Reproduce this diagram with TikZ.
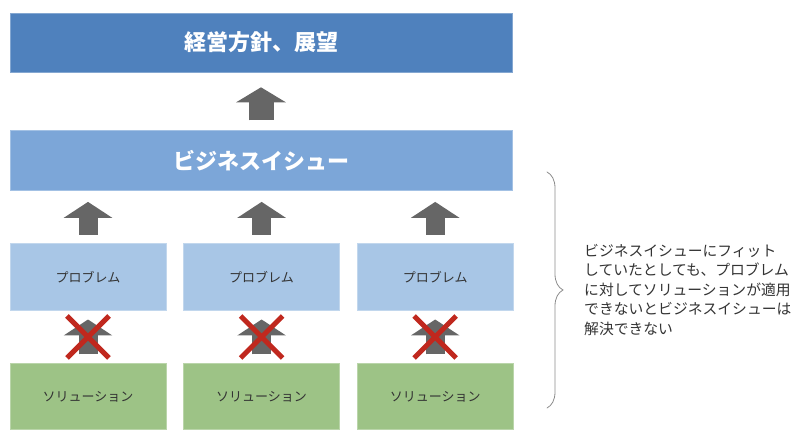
\documentclass[tikz,border=0pt]{standalone}
\usepackage{fontspec}
\setmainfont{Noto Sans CJK JP}
\usepackage{tikz}
\usetikzlibrary{positioning, arrows.meta, shapes.misc, decorations.pathreplacing}
\usepackage{xcolor}
\definecolor{goalblue}{HTML}{4F81BD}
\definecolor{issueblue}{HTML}{7CA6D8}
\definecolor{probblue}{HTML}{A8C6E6}
\definecolor{solgreen}{HTML}{9DC386}
\definecolor{arrgray}{HTML}{666666}
\definecolor{ngred}{HTML}{C0281E}
\definecolor{txtgray}{HTML}{333333}

\begin{document}
\begin{tikzpicture}[x=1pt, y=1pt,
                  box/.style={inner sep=0pt, align=center, line width=0.6pt},
                  goal/.style={box, fill=goalblue, draw=goalblue!70!white,
                              minimum width=502pt, minimum height=59pt,
                              text=white, font=\fontsize{22}{25}\selectfont\bfseries},
                  issue/.style={box, fill=issueblue, draw=issueblue!70!white,
                              minimum width=502pt, minimum height=60pt,
                              text=white, font=\fontsize{22}{25}\selectfont\bfseries},
                  prob/.style={box, fill=probblue, draw=probblue!70!white,
                              minimum width=156pt, minimum height=67pt,
                              text=txtgray, font=\fontsize{13}{15}\selectfont},
                  sol/.style={box, fill=solgreen, draw=solgreen!70!white,
                              minimum width=156pt, minimum height=66pt,
                              text=txtgray, font=\fontsize{13}{15}\selectfont},
                  bigarr/.style={draw=arrgray, line width=25pt, line cap=butt,
                              -{Triangle[width=49pt, length=15pt]}},
                  uparr/.style={draw=arrgray, line width=19pt, line cap=butt,
                              -{Triangle[width=48pt, length=16pt]}},
                  ng/.style={cross out, draw=ngred, line width=5pt, inner sep=0pt,
                              minimum size=37pt},
                  note/.style={align=left, text=txtgray, inner sep=0pt,
                              font=\fontsize{14.8}{19.5}\selectfont},
                  node distance=58pt and 17pt,
            ]
            \useasboundingbox (0,0) rectangle (800,444);
            \node[goal] (top) at (261,401.5) {経営方針、展望};
            \node[issue, below=of top] (bi) {ビジネスイシュー};
            \node[prob, below right=52pt and 0pt of bi.south west] (p1) {プロブレム};
            \node[prob, right=of p1] (p2) {プロブレム};
            \node[prob, right=of p2] (p3) {プロブレム};
            \node[sol, below=53pt of p1] (s1) {ソリューション};
            \node[sol, below=53pt of p2] (s2) {ソリューション};
            \node[sol, below=53pt of p3] (s3) {ソリューション};

            \draw[bigarr] ([yshift=10pt]bi.north) -- ([yshift=-15pt]top.south);
            \foreach \i in {1,2,3}{
                  \draw[uparr] ([yshift=8pt]p\i.north) -- ([yshift=-11pt]p\i.north |- bi.south);
                  \draw[uparr] ([yshift=9pt]s\i.north) -- ([yshift=-9pt]p\i.south)
                        coordinate[pos=0.5] (mid\i);
                  \node[ng] (x\i) at (mid\i) {};
            }

            \coordinate (brtop) at (547,272);
            \coordinate (brbot) at (547,36);
            \draw[gray!90, line width=0.8pt, line cap=round,
                  decorate, decoration={brace, amplitude=16pt}]
                  (brtop) -- (brbot) coordinate[midway, xshift=16pt] (brtip);
            \node[note, right=21pt of brtip] (msg) {ビジネスイシューにフィット\\
                  していたとしても、プロブレム\\
                  に対してソリューションが適用\\
                  できないとビジネスイシューは\\
                  解決できない};
      \end{tikzpicture}
\end{document}
